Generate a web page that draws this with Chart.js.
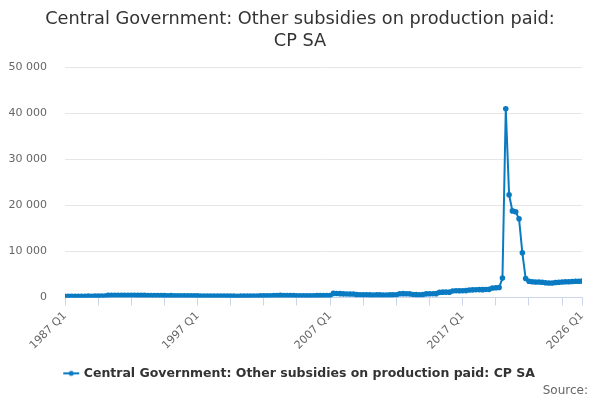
<!DOCTYPE html>
<html>
<head>
<meta charset="utf-8">
<script src="https://cdn.jsdelivr.net/npm/chart.js@4/dist/chart.umd.min.js"></script>
<style>
  html, body { margin: 0; padding: 0; background: #fff; }
  #wrap { width: 600px; height: 400px; }
</style>
</head>
<body>
<div id="wrap"><canvas id="chart"></canvas></div>
<script>
// quarterly series, 1987 Q1 .. 2026 Q1 (GBP million)
var firstYear = 1987;
var lastYear = 2026;
var quarters = [];
for (var y = firstYear; y <= lastYear; y++) {
  for (var q = 1; q <= 4; q++) {
    if (y == lastYear && q > 1) { break; }
    quarters.push(y + ' Q' + q);
  }
}

var values = [
  250,240,260,250,260,270,260,280,270,290,280,300,320,
  450,460,470,480,470,460,480,470,460,450,440,450,
  430,420,410,420,400,390,380,390,370,360,370,350,360,340,350,330,
  320,310,300,310,300,290,300,290,280,290,280,270,280,290,280,300,310,320,330,340,350,360,
  420,430,440,430,420,410,400,
  370,360,350,360,370,380,390,400,410,420,430,
  870,850,820,780,760,740,750,
  600,580,560,570,550,540,560,550,540,530,550,560,580,
  800,820,790,780,
  620,600,590,610,
  780,800,810,820,
  1100,1150,1160,1150,
  1400,1450,1460,1450,1480,
  1600,1650,1680,1700,1690,1720,1750,
  2050,2100,2150,
  4200,41000,22300,18800,18600,17100,9700,4100,
  3500,3400,3350,3350,3300,3200,3150,3150,3250,3300,3350,3400,3400,3450,3500,3500,3550
];

var tickLabels = ['1987 Q1', '1997 Q1', '2007 Q1', '2017 Q1', '2026 Q1'];
var seriesName = 'Central Government: Other subsidies on production paid: CP SA';
var titleLines = ['Central Government: Other subsidies on production paid:', 'CP SA'];
var sourceText = 'Source:';

var blue = '#0a7bc2';

// legend marker: short line with a dot
var marker = document.createElement('canvas');
marker.width = 18; marker.height = 8;
var mc = marker.getContext('2d');
mc.strokeStyle = blue; mc.lineWidth = 2;
mc.beginPath(); mc.moveTo(1, 4); mc.lineTo(17, 4); mc.stroke();
mc.fillStyle = blue;
mc.beginPath(); mc.arc(9, 4, 2.5, 0, Math.PI * 2); mc.fill();

function spaced(v) {
  return String(v).replace(/\B(?=(\d{3})+(?!\d))/g, ' ');
}

var points = values.map(function(v, i) { return { x: i, y: v }; });

// pull the "Source:" line in from the right edge a little
var sourceInset = {
  id: 'sourceInset',
  afterLayout: function(chart) {
    chart.boxes.forEach(function(b) {
      if (b.options && b.options.text === sourceText) { b.right = chart.width - 12; }
    });
  }
};

new Chart(document.getElementById('chart'), {
  type: 'line',
  data: {
    datasets: [{
      label: seriesName,
      data: points,
      borderColor: blue,
      backgroundColor: blue,
      borderWidth: 2,
      pointRadius: 1.8,
      pointHoverRadius: 3,
      tension: 0
    }]
  },
  plugins: [sourceInset],
  options: {
    responsive: true,
    maintainAspectRatio: false,
    animation: false,
    layout: { padding: { left: 0, right: 0, top: 9, bottom: 2 } },
    font: { family: 'DejaVu Sans' },
    scales: {
      x: {
        type: 'linear',
        min: 0,
        max: quarters.length - 1,
        afterBuildTicks: function(scale) {
          var t = [];
          for (var i = 0; i < quarters.length; i += 10) { t.push({ value: i }); }
          t.push({ value: quarters.length - 1 });
          scale.ticks = t;
        },
        afterFit: function(scale) { scale.paddingLeft = 0; },
        ticks: {
          autoSkip: false,
          maxRotation: 45,
          minRotation: 45,
          color: '#666',
          font: { family: 'DejaVu Sans', size: 11 },
          padding: 4,
          callback: function(v) {
            var lab = quarters[v];
            return tickLabels.indexOf(lab) >= 0 ? lab : '';
          }
        },
        grid: {
          drawOnChartArea: false,
          color: '#ccd6eb',
          tickLength: 8
        },
        border: { color: '#ccd6eb', width: 1 }
      },
      y: {
        min: 0,
        max: 50000,
        afterFit: function(scale) { scale.width = 65; },
        ticks: {
          stepSize: 10000,
          color: '#666',
          font: { family: 'DejaVu Sans', size: 11 },
          padding: 18,
          callback: function(v) { return spaced(v); }
        },
        grid: { color: '#e6e6e6', drawTicks: false },
        border: { display: false }
      },
      // empty axis that only keeps a margin on the right
      yRight: {
        position: 'right',
        display: true,
        grid: { drawOnChartArea: false, drawTicks: false },
        border: { display: false },
        ticks: { display: false },
        afterFit: function(scale) { scale.width = 18; }
      }
    },
    plugins: {
      title: {
        display: true,
        text: titleLines,
        color: '#333',
        font: { family: 'DejaVu Sans', size: 17.75, weight: 'normal', lineHeight: 1.22 },
        padding: { top: 0, bottom: 15 }
      },
      subtitle: {
        display: true,
        position: 'bottom',
        align: 'end',
        text: sourceText,
        color: '#666',
        font: { family: 'DejaVu Sans', size: 12 },
        padding: { top: -6, bottom: 0 }
      },
      legend: {
        position: 'bottom',
        labels: {
          usePointStyle: true,
          color: '#333',
          font: { family: 'DejaVu Sans', size: 12.5, weight: 'bold' },
          padding: 11,
          generateLabels: function(chart) {
            var items = Chart.defaults.plugins.legend.labels.generateLabels(chart);
            items.forEach(function(it) { it.pointStyle = marker; });
            return items;
          }
        }
      },
      tooltip: {
        callbacks: {
          title: function(items) { return quarters[items[0].parsed.x]; }
        }
      }
    }
  }
});
</script>
</body>
</html>
